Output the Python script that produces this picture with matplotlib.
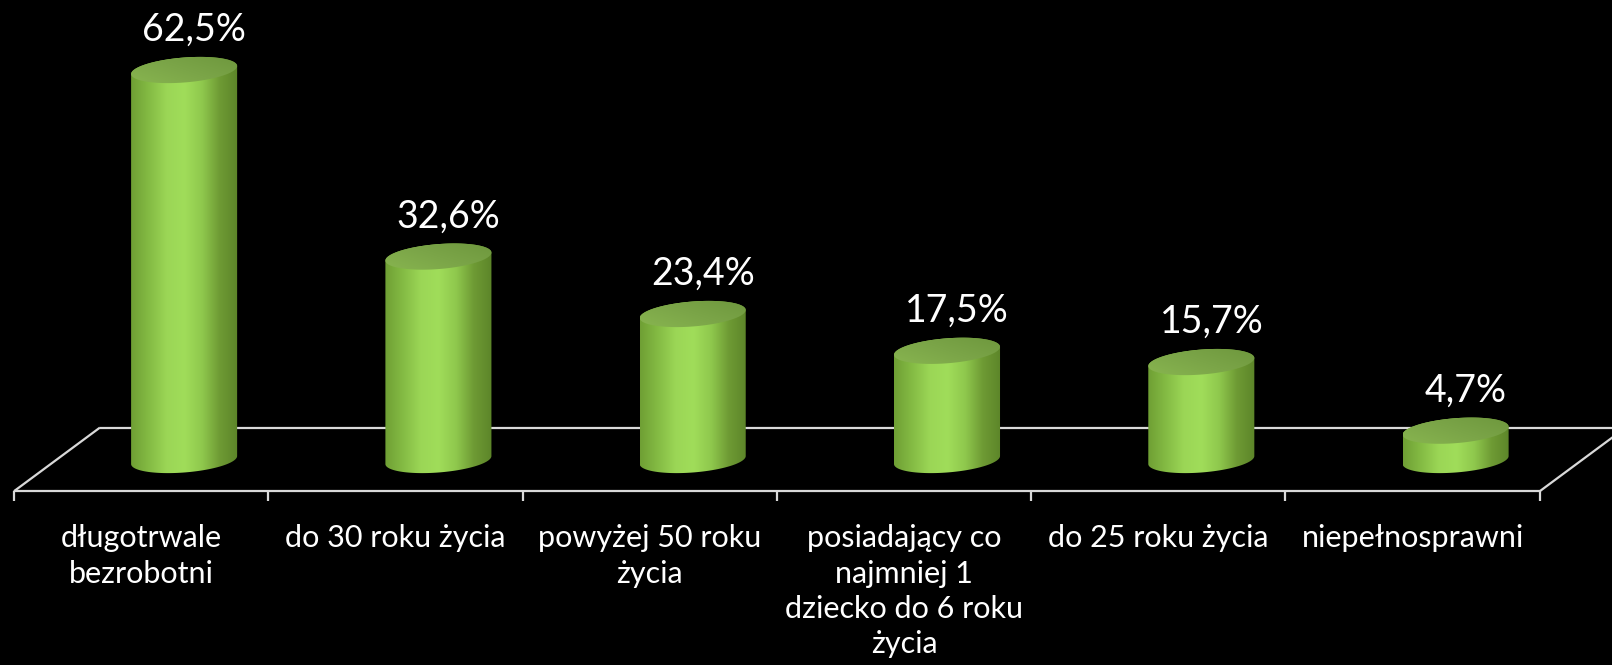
import numpy as np
import matplotlib
matplotlib.use("Agg")
import matplotlib.pyplot as plt
from matplotlib.patches import Polygon
from matplotlib.colors import LinearSegmentedColormap

categories = ["długotrwale\nbezrobotni", "do 30 roku życia", "powyżej 50 roku\nżycia",
              "posiadający co\nnajmniej 1\ndziecko do 6 roku\nżycia", "do 25 roku życia",
              "niepełnosprawni"]
values = [62.5, 32.6, 23.4, 17.5, 15.7, 4.7]
value_labels = ["62,5%", "32,6%", "23,4%", "17,5%", "15,7%", "4,7%"]

plt.rcParams['font.family'] = ['Lato', 'DejaVu Sans']

fig = plt.figure(figsize=(16.12, 6.65), dpi=100, facecolor='black')
ax = fig.add_axes([0, 0, 1, 1])
ax.set_facecolor('black')
ax.axis('off')

# floor geometry (data units)
half_depth = 0.169
y_front, y_back = -5.0, 5.2
n = len(values)
x_left = -0.5 - half_depth
x_right = n - 0.5 - half_depth
dx = 2 * half_depth
line_kw = dict(color='#d9d9d9', lw=1.6, solid_capstyle='butt', zorder=1)
ax.plot([x_left, x_right], [y_front, y_front], **line_kw)
ax.plot([x_left + dx, x_right + dx], [y_back, y_back], **line_kw)
ax.plot([x_left, x_left + dx], [y_front, y_back], **line_kw)
ax.plot([x_right, x_right + dx], [y_front, y_back], **line_kw)
for k in range(n + 1):
    xt = x_left + k
    ax.plot([xt, xt], [y_front, -6.5], **line_kw)

# cylinders
a, b, s = 0.2085, 2.0, 3.07
body_cmap = LinearSegmentedColormap.from_list(
    'body', ['#6f9f34', '#84bb44', '#9bd656', '#a0dd5a', '#8fc84d', '#6e9a34', '#5c8529'])
top_cmap = LinearSegmentedColormap.from_list('top', ['#6a933a', '#7ba548', '#8cba52'])
t = np.linspace(0, 2 * np.pi, 200)

for i, v in enumerate(values):
    cx = i
    ex = cx + a * np.cos(t)
    ey_off = b * np.sin(t) + s * a * np.cos(t)
    lower = t >= np.pi
    upper = t <= np.pi
    body_xy = np.vstack([
        np.column_stack([ex[lower], 0 + ey_off[lower]]),
        np.column_stack([ex[upper], v + ey_off[upper]]),
    ])
    body = Polygon(body_xy, closed=True, facecolor='none', edgecolor='none')
    ax.add_patch(body)
    grad = np.linspace(0, 1, 256).reshape(1, -1)
    im = ax.imshow(grad, cmap=body_cmap, extent=[cx - a, cx + a, -b - 2, v + b + 2],
                   aspect='auto', origin='lower', zorder=2, interpolation='bilinear')
    im.set_clip_path(body)

    top = Polygon(np.column_stack([ex, v + ey_off]), closed=True,
                  facecolor='none', edgecolor='none')
    ax.add_patch(top)
    gx, gy = np.meshgrid(np.linspace(0, 1, 64), np.linspace(0, 1, 64))
    g2 = 1 - (0.6 * gx + 0.8 * gy) / 1.4
    im2 = ax.imshow(g2, cmap=top_cmap, extent=[cx - a, cx + a, v - b - 2, v + b + 2],
                    aspect='auto', origin='lower', zorder=3, interpolation='bilinear')
    im2.set_clip_path(top)

    ax.text(cx + 0.04, v + 6.4, value_labels[i], color='white', fontsize=27,
            ha='center', va='center', zorder=4)

# category labels
for i, lab in enumerate(categories):
    ax.text(i - half_depth, -10.3, lab, color='white', fontsize=22, ha='center',
            va='top', linespacing=1.32, zorder=4)

ax.set_xlim(-0.724, 5.615)
ax.set_ylim(-32.85, 73.72)
fig.savefig('out.png', dpi=100, facecolor='black')
